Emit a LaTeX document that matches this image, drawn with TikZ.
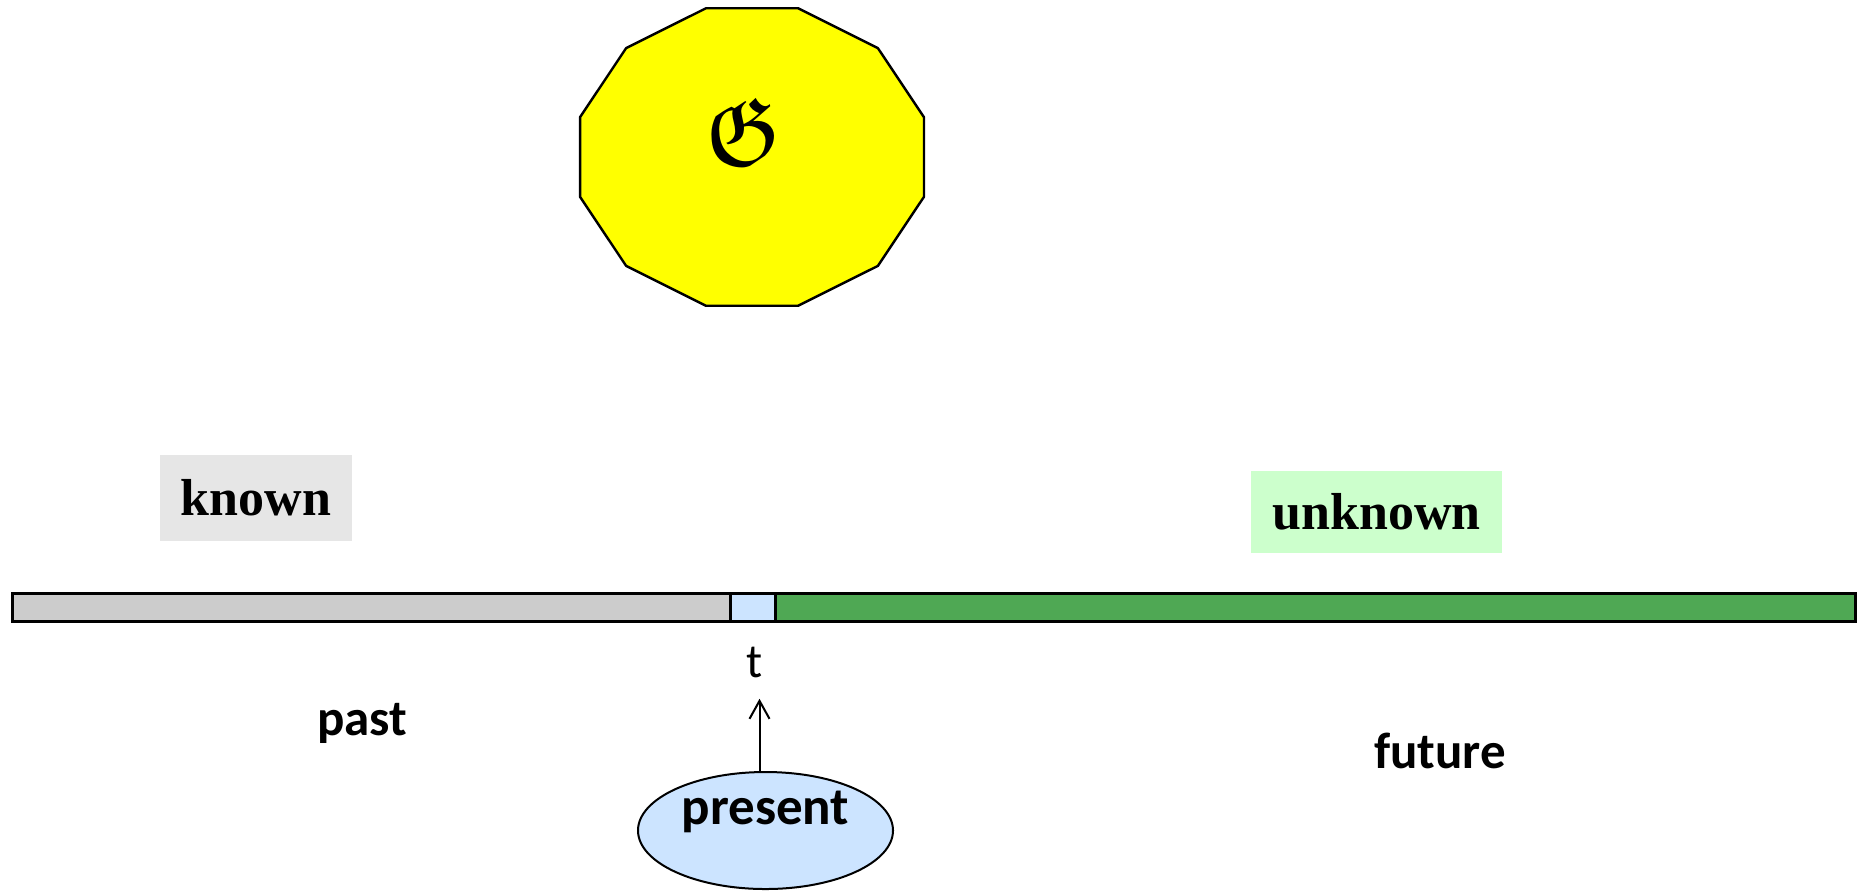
\documentclass[tikz,border=0pt]{standalone}
\usepackage{amssymb}
\usepackage{graphicx}
\usepackage{fontspec}
\setmainfont{Liberation Serif}
\newfontfamily\calibri{Carlito}
\usetikzlibrary{shapes,arrows.meta,positioning}

\definecolor{gonyellow}{RGB}{255,255,0}
\definecolor{knowngray}{RGB}{230,230,230}
\definecolor{unknowngreen}{RGB}{204,255,204}
\definecolor{pastgray}{RGB}{204,204,204}
\definecolor{nowblue}{RGB}{204,228,255}
\definecolor{futuregreen}{RGB}{79,168,84}

\begin{document}
\begin{tikzpicture}[x=0.5pt, y=0.5pt, >={Straight Barb[length=9pt,width=10pt]},
    tag/.style={rectangle, inner sep=0pt, font=\fontsize{26}{30}\selectfont\bfseries},
    word/.style={inner sep=0pt, font=\calibri\fontsize{25.5}{30}\selectfont\bfseries},
    seg/.style={rectangle, draw, line width=1.5pt, inner sep=0pt, outer sep=0pt, minimum height=14pt, anchor=west}]
    \useasboundingbox (0,0) rectangle (1866,-890);

    % the twelve-sided frame with G inside
    \coordinate (mid) at (752,-157);
    \draw [fill=gonyellow, line width=1.2pt, shift={(mid)}] (15:178 and 154)
        \foreach \a in {45,75,...,345} { -- (\a:178 and 154) } -- cycle;
    \node (g) at (744,-132) {\scalebox{1.95}{\fontsize{24.88}{30}\selectfont$\mathfrak{G}$}};

    \node [tag, fill=knowngray, minimum width=96pt, minimum height=43pt] (known) at (256,-498) {known};
    \node [tag, fill=unknowngreen, minimum width=125.5pt, minimum height=41pt] (unknown) at (1376.5,-512) {unknown};

    % time line
    \node [seg, fill=pastgray, minimum width=359pt] (pastbar) at (12,-607) {};
    \node [seg, fill=nowblue, minimum width=22.5pt] (nowbar) at (pastbar.east) {};
    \node [seg, fill=futuregreen, minimum width=540pt] (futurebar) at (nowbar.east) {};

    \node [font=\calibri\fontsize{24}{28}\selectfont, inner sep=0pt, anchor=base] (tlbl) at (755,-677) {t};
    \node [word, anchor=base] (past) at (362,-735) {past};
    \node [word, anchor=base] (future) at (1440,-768) {future};

    \node [ellipse, draw, fill=nowblue, line width=1pt, inner sep=0pt,
        minimum width=127.5pt, minimum height=58.5pt,
        font=\calibri\fontsize{26.5}{30}\selectfont\bfseries,
        text height=16pt, text depth=22.5pt] (present) at (765.5,-830.5) {present};
    \draw [->, line width=1pt, shorten >=10.5pt] ([xshift=-3pt]present.north) -- ([xshift=-3pt]present.north |- tlbl.south);
\end{tikzpicture}
\end{document}
